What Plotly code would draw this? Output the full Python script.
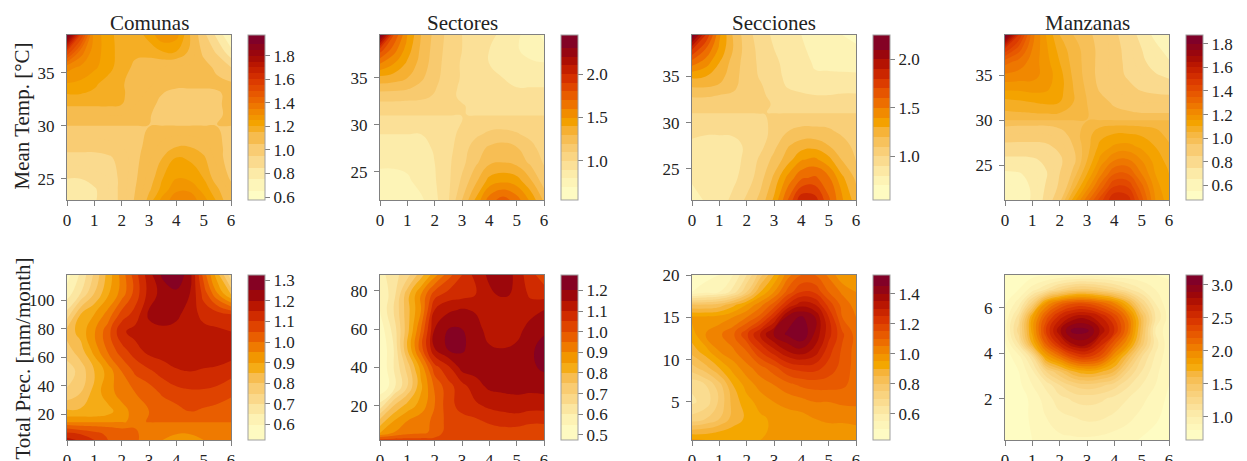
import plotly.graph_objects as go
import numpy as np

W, H = 1247, 461
hours = [0, .5, 1, 1.5, 2, 2.5, 3, 3.5, 4, 4.5, 5, 5.5, 6]
titles = ["Comunas", "Sectores", "Secciones", "Manzanas"]
row_titles = ["Mean Temp. [°C]", "Total Prec. [mm/month]"]

# --- Mean temperature row -------------------------------------------------
y_comunas = [38.55, 37, 35.5, 34, 33, 32, 31, 30.1, 29.9, 28, 27, 25, 24, 23]
z_comunas = [
    [1.95, 1.55, 1.27, 1.23, 1.16, 1.17, 1.22, 1.29, 1.27, 1.15, .98, .82, .65],
    [1.55, 1.38, 1.27, 1.23, 1.17, 1.16, 1.17, 1.2, 1.2, 1.14, 1.03, .93, .78],
    [1.32, 1.29, 1.26, 1.22, 1.17, 1.14, 1.12, 1.1, 1.09, 1.09, 1.08, 1.03, .95],
    [1.25, 1.24, 1.21, 1.18, 1.155, 1.13, 1.11, 1.08, 1.07, 1.07, 1.07, 1.07, 1.06],
    [1.2, 1.2, 1.19, 1.18, 1.16, 1.12, 1.09, 1.05, 1.03, 1.03, 1.03, 1.04, 1.07],
    [1.16, 1.16, 1.16, 1.16, 1.15, 1.1, 1.07, 1.03, 1.01, 1.01, 1.02, 1.04, 1.07],
    [1.1, 1.1, 1.1, 1.1, 1.1, 1.09, 1.06, 1.0, 1.0, 1.0, 1.0, 1.03, 1.08],
    [1.06, 1.06, 1.06, 1.06, 1.06, 1.06, 1.05, 1.04, 1.04, 1.04, 1.04, 1.05, 1.07],
    [1.04, 1.04, 1.04, 1.04, 1.04, 1.04, 1.05, 1.06, 1.06, 1.06, 1.06, 1.05, 1.03],
    [.97, .97, .97, .98, 1.0, 1.03, 1.07, 1.12, 1.15, 1.15, 1.12, 1.07, 1.02],
    [.93, .93, .93, .94, .97, 1.03, 1.09, 1.15, 1.2, 1.19, 1.16, 1.08, 1.01],
    [.85, .85, .88, .9, .97, 1.04, 1.12, 1.2, 1.25, 1.24, 1.2, 1.12, 1.04],
    [.8, .81, .84, .9, .97, 1.05, 1.14, 1.22, 1.29, 1.29, 1.23, 1.16, 1.08],
    [.78, .8, .84, .9, .97, 1.06, 1.17, 1.27, 1.33, 1.33, 1.27, 1.19, 1.1],
]
y_sectores = [39.57, 38, 36.5, 35, 34, 33, 32, 31.1, 30.9, 29, 27.5, 26, 24, 22]
z_sectores = [
    [2.4, 1.8, 1.5, 1.3, 1.17, 1.07, 1.0, .96, .93, .87, .82, .75, .68],
    [1.85, 1.65, 1.45, 1.28, 1.16, 1.06, 1.0, .95, .9, .86, .81, .76, .72],
    [1.6, 1.5, 1.38, 1.26, 1.15, 1.05, .99, .94, .9, .87, .84, .82, .81],
    [1.37, 1.35, 1.3, 1.22, 1.13, 1.05, .99, .94, .92, .9, .89, .88, .88],
    [1.25, 1.24, 1.22, 1.17, 1.11, 1.04, .98, .95, .93, .91, .9, .9, .9],
    [1.14, 1.14, 1.13, 1.12, 1.09, 1.03, .98, .96, .94, .93, .93, .93, .93],
    [1.06, 1.06, 1.06, 1.06, 1.05, 1.03, 1.01, .97, .96, .96, .96, .96, .96],
    [1.01, 1.01, 1.01, 1.01, 1.01, 1.01, 1.005, .99, .98, .98, .98, .98, .98],
    [.99, .99, .99, .99, .99, .99, 1.0, 1.01, 1.02, 1.02, 1.02, 1.02, 1.02],
    [.9, .9, .9, .9, .92, .96, 1.03, 1.08, 1.12, 1.13, 1.11, 1.07, 1.02],
    [.86, .86, .86, .87, .91, .97, 1.05, 1.15, 1.22, 1.25, 1.21, 1.14, 1.05],
    [.82, .82, .83, .85, .9, .98, 1.07, 1.18, 1.28, 1.3, 1.27, 1.18, 1.09],
    [.76, .76, .78, .84, .89, .98, 1.12, 1.28, 1.44, 1.48, 1.45, 1.32, 1.15],
    [.74, .74, .76, .78, .87, .99, 1.2, 1.42, 1.65, 1.75, 1.65, 1.48, 1.28],
]
y_secciones = [39.5, 38, 36.5, 35, 34, 33, 32, 31.1, 30.9, 29, 27.5, 26, 24, 21.6]
z_secciones = [
    [2.2, 1.8, 1.42, 1.19, 1.04, .95, .88, .83, .8, .77, .74, .7, .65],
    [1.82, 1.6, 1.38, 1.2, 1.05, .97, .9, .85, .81, .78, .74, .75, .73],
    [1.55, 1.45, 1.3, 1.16, 1.05, .98, .92, .87, .83, .79, .77, .76, .75],
    [1.32, 1.3, 1.24, 1.14, 1.05, .99, .93, .88, .84, .81, .82, .82, .82],
    [1.22, 1.22, 1.19, 1.12, 1.06, 1.01, .95, .89, .87, .85, .85, .85, .85],
    [1.11, 1.11, 1.1, 1.09, 1.05, 1.02, .97, .93, .91, .9, .9, .91, .91],
    [1.07, 1.07, 1.07, 1.07, 1.05, 1.03, .99, .96, .95, .95, .95, .95, .95],
    [1.01, 1.01, 1.01, 1.01, 1.01, 1.01, .99, .97, .97, .97, .97, .97, .97],
    [.99, .99, .99, .99, .99, .995, 1.01, 1.03, 1.03, 1.03, 1.03, 1.03, 1.03],
    [.93, .91, .91, .91, .92, .96, 1.03, 1.1, 1.13, 1.13, 1.12, 1.08, 1.03],
    [.87, .87, .87, .88, .91, .97, 1.07, 1.19, 1.25, 1.26, 1.2, 1.14, 1.07],
    [.85, .85, .86, .87, .92, 1.02, 1.13, 1.25, 1.39, 1.42, 1.33, 1.19, 1.09],
    [.83, .83, .85, .88, .94, 1.06, 1.22, 1.43, 1.58, 1.62, 1.52, 1.32, 1.18],
    [.72, .82, .86, .92, 1.02, 1.13, 1.32, 1.6, 1.88, 1.85, 1.62, 1.41, 1.25],
]
y_manzanas = [39.5, 38, 36.5, 35, 33.5, 32, 30.1, 29.9, 28.5, 27, 25.5, 24, 22.5, 21.1]
z_manzanas = [
    [1.85, 1.5, 1.27, 1.15, 1.05, 1.0, .97, .92, .87, .8, .72, .62, .56],
    [1.5, 1.38, 1.25, 1.16, 1.08, 1.02, .98, .93, .88, .82, .75, .68, .6],
    [1.32, 1.28, 1.23, 1.17, 1.1, 1.03, .98, .93, .88, .83, .77, .71, .66],
    [1.24, 1.23, 1.22, 1.18, 1.12, 1.04, .98, .93, .88, .84, .8, .76, .73],
    [1.16, 1.16, 1.17, 1.16, 1.12, 1.05, .99, .94, .9, .87, .84, .82, .81],
    [1.08, 1.09, 1.1, 1.11, 1.1, 1.05, 1.0, .97, .94, .92, .9, .9, .9],
    [1.02, 1.02, 1.02, 1.02, 1.02, 1.02, 1.0, .98, .98, .98, .98, .98, .98],
    [.98, .98, .98, .98, .98, .98, 1.0, 1.02, 1.02, 1.02, 1.02, 1.02, 1.02],
    [.91, .9, .9, .9, .93, .97, 1.03, 1.08, 1.1, 1.1, 1.09, 1.07, 1.03],
    [.82, .82, .82, .83, .87, .95, 1.03, 1.12, 1.16, 1.17, 1.14, 1.1, 1.06],
    [.72, .72, .73, .77, .83, .93, 1.05, 1.17, 1.25, 1.26, 1.2, 1.13, 1.08],
    [.63, .64, .68, .74, .85, .97, 1.1, 1.24, 1.35, 1.35, 1.25, 1.15, 1.1],
    [.58, .61, .66, .76, .87, 1.03, 1.18, 1.33, 1.46, 1.45, 1.32, 1.18, 1.1],
    [.55, .6, .66, .78, .93, 1.12, 1.28, 1.43, 1.55, 1.53, 1.37, 1.2, 1.12],
]
# --- Total precipitation row ----------------------------------------------
y_comunas_p = [117.6, 105, 90, 78, 65, 50, 35, 22, 14.6, 13.8, 10, 6, 1.9]
z_comunas_p = [
    [.58, .66, .76, .87, .97, 1.08, 1.18, 1.26, 1.29, 1.22, 1.03, .87, .72],
    [.62, .7, .8, .89, .97, 1.07, 1.17, 1.22, 1.24, 1.2, 1.08, .95, .83],
    [.72, .85, .9, .97, 1.07, 1.12, 1.21, 1.22, 1.21, 1.18, 1.13, 1.12, 1.1],
    [.82, .87, .945, 1.03, 1.14, 1.17, 1.18, 1.19, 1.185, 1.18, 1.17, 1.16, 1.15],
    [.78, .83, .92, 1.01, 1.08, 1.13, 1.17, 1.18, 1.18, 1.18, 1.18, 1.18, 1.18],
    [.72, .77, .85, .92, 1.0, 1.06, 1.09, 1.12, 1.145, 1.15, 1.145, 1.14, 1.12],
    [.76, .8, .87, .93, .97, 1.0, 1.02, 1.06, 1.08, 1.09, 1.09, 1.08, 1.06],
    [.86, .86, .86, .88, .93, .97, 1.0, 1.01, 1.03, 1.05, 1.04, 1.03, 1.02],
    [.94, .94, .94, .94, .945, .96, 1.01, 1.01, 1.01, 1.01, 1.01, 1.01, 1.01],
    [.97, .97, .97, .97, .97, .97, .98, .98, .98, .98, .98, .98, .98],
    [1.05, 1.03, 1.02, 1.01, 1.0, 1.0, .97, .97, .96, .96, .96, .97, .97],
    [1.12, 1.1, 1.07, 1.04, 1.02, 1.01, .97, .96, .95, .95, .96, .97, .97],
    [1.17, 1.14, 1.1, 1.05, 1.03, 1.01, .97, .95, .93, .93, .95, .97, .97],
]
y_sectores_p = [88.2, 78, 70, 60, 50, 40, 30, 20, 12, 6, 2.1]
z_sectores_p = [
    [.58, .63, .68, .78, .88, .98, 1.05, 1.12, 1.16, 1.2, 1.13, 1.07, 1.02],
    [.55, .63, .78, .9, 1.03, 1.07, 1.08, 1.1, 1.14, 1.16, 1.14, 1.09, 1.08],
    [.55, .65, .78, .9, 1.1, 1.14, 1.155, 1.145, 1.1, 1.1, 1.11, 1.13, 1.15],
    [.52, .62, .78, .95, 1.15, 1.2, 1.2, 1.17, 1.13, 1.11, 1.13, 1.17, 1.19],
    [.5, .6, .8, .98, 1.15, 1.21, 1.21, 1.17, 1.155, 1.15, 1.16, 1.19, 1.22],
    [.5, .6, .72, .87, 1.03, 1.09, 1.17, 1.17, 1.17, 1.17, 1.18, 1.19, 1.21],
    [.5, .58, .7, .84, .96, 1.03, 1.08, 1.13, 1.16, 1.165, 1.165, 1.165, 1.17],
    [.62, .75, .82, .87, .95, 1.03, 1.07, 1.09, 1.11, 1.12, 1.13, 1.12, 1.12],
    [.77, .85, .9, .93, .96, 1.02, 1.03, 1.04, 1.06, 1.07, 1.07, 1.06, 1.06],
    [.84, .9, .93, .94, .96, 1.03, 1.02, 1.02, 1.02, 1.03, 1.03, 1.02, 1.02],
    [1.02, 1.02, 1.02, 1.02, 1.02, 1.02, 1.02, 1.02, 1.02, 1.02, 1.02, 1.02, 1.02],
]
y_secciones_p = [20, 18, 16.5, 15, 13, 11, 9, 7, 5, 3, 1.5, .5]
z_secciones_p = [
    [.47, .48, .5, .55, .65, .78, .9, 1.03, 1.1, 1.1, 1.04, .96, .98],
    [.5, .53, .55, .62, .75, .9, 1.0, 1.12, 1.2, 1.19, 1.1, 1.04, 1.0],
    [.8, .8, .82, .88, .95, 1.03, 1.12, 1.25, 1.33, 1.3, 1.18, 1.08, 1.03],
    [.96, .96, .97, 1.0, 1.05, 1.12, 1.25, 1.42, 1.46, 1.4, 1.25, 1.1, 1.05],
    [.93, 1.0, 1.04, 1.09, 1.19, 1.31, 1.41, 1.46, 1.5, 1.39, 1.27, 1.16, 1.08],
    [.87, .93, 1.0, 1.04, 1.1, 1.2, 1.28, 1.35, 1.38, 1.33, 1.22, 1.14, 1.08],
    [.78, .83, .9, .97, 1.03, 1.08, 1.13, 1.2, 1.22, 1.22, 1.18, 1.13, 1.08],
    [.66, .7, .78, .9, .97, 1.02, 1.05, 1.08, 1.11, 1.12, 1.12, 1.11, 1.08],
    [.64, .67, .76, .87, .93, .97, 1.0, 1.02, 1.03, 1.05, 1.05, 1.06, 1.06],
    [.72, .75, .8, .87, .91, .94, .96, .97, .98, 1.0, 1.01, 1.01, 1.02],
    [.87, .88, .9, .92, .93, .93, .97, .98, .98, .98, .98, .98, .98],
    [.96, .95, .95, .95, .95, .95, .96, .96, .96, .96, .96, .96, .96],
]
y_manzanas_p = [7.44, 6.8, 6.2, 5.6, 5, 4.4, 3.8, 3.2, 2.6, 2, 1.2, .18]
z_manzanas_p = [
    [.72, .74, .76, .78, .8, .83, .85, .85, .84, .83, .82, .8, .78],
    [.75, .8, .95, 1.1, 1.28, 1.4, 1.42, 1.35, 1.25, 1.12, 1.0, .9, .85],
    [.78, .95, 1.35, 1.9, 2.15, 2.28, 2.28, 2.17, 2.0, 1.7, 1.3, 1.0, .82],
    [.82, 1.15, 1.8, 2.25, 2.55, 2.72, 2.75, 2.6, 2.38, 2.05, 1.55, 1.1, .85],
    [.85, 1.25, 1.85, 2.4, 2.78, 3.05, 3.03, 2.78, 2.5, 2.1, 1.55, 1.0, .82],
    [.78, 1.1, 1.7, 2.2, 2.55, 2.8, 2.82, 2.55, 2.22, 1.9, 1.45, 1.05, .83],
    [.75, .85, 1.15, 1.8, 2.05, 2.3, 2.38, 2.25, 1.9, 1.55, 1.2, .98, .83],
    [.72, .8, .98, 1.3, 1.5, 1.7, 1.78, 1.72, 1.6, 1.3, 1.1, .93, .82],
    [.7, .77, .9, 1.03, 1.2, 1.32, 1.37, 1.33, 1.25, 1.12, 1.0, .9, .8],
    [.7, .74, .83, .95, 1.06, 1.12, 1.14, 1.12, 1.07, 1.0, .93, .85, .78],
    [.72, .75, .82, .9, .97, 1.0, 1.03, 1.02, .98, .93, .87, .82, .76],
    [.78, .78, .8, .85, .87, .88, .88, .87, .85, .83, .79, .76, .74],
]

# contour levels
levels_comunas = [.6, .65, .75, .85, .95, 1.05, 1.15] + [round(1.2 + .05 * i, 2) for i in range(16)]
levels_sectores = [round(.6 + .1 * i, 1) for i in range(19)]
levels_secciones = [round(.6 + .1 * i, 1) for i in range(17)]
levels_manzanas = [.5, .55, .65, .75, .85, .95] + [round(1.0 + .05 * i, 2) for i in range(18)]
levels_comunas_p = [round(.55 + .05 * i, 2) for i in range(16)]
levels_sectores_p = [round(.5 + .05 * i, 2) for i in range(16)]
levels_secciones_p = [round(.45 + .05 * i, 2) for i in range(22)]
levels_manzanas_p = [round(.7 + .1 * i, 1) for i in range(25)]

panels = [
    (y_comunas, z_comunas, levels_comunas, [23, 38.55], [25, 30, 35], [.6, .8, 1.0, 1.2, 1.4, 1.6, 1.8]),
    (y_sectores, z_sectores, levels_sectores, [22, 39.57], [25, 30, 35], [1.0, 1.5, 2.0]),
    (y_secciones, z_secciones, levels_secciones, [21.6, 39.5], [25, 30, 35], [1.0, 1.5, 2.0]),
    (y_manzanas, z_manzanas, levels_manzanas, [21.1, 39.5], [25, 30, 35], [.6, .8, 1.0, 1.2, 1.4, 1.6, 1.8]),
    (y_comunas_p, z_comunas_p, levels_comunas_p, [1.9, 117.6], [20, 40, 60, 80, 100], [.6, .7, .8, .9, 1.0, 1.1, 1.2, 1.3]),
    (y_sectores_p, z_sectores_p, levels_sectores_p, [2.1, 88.2], [20, 40, 60, 80], [.5, .6, .7, .8, .9, 1.0, 1.1, 1.2]),
    (y_secciones_p, z_secciones_p, levels_secciones_p, [.5, 20], [5, 10, 15, 20], [.6, .8, 1.0, 1.2, 1.4]),
    (y_manzanas_p, z_manzanas_p, levels_manzanas_p, [.18, 7.44], [2, 4, 6], [1.0, 1.5, 2.0, 2.5, 3.0]),
]

RAMP = [(0, "#FFFFC8"), (.125, "#FDEFAF"), (.2, "#FBDF96"), (.3, "#F9CC72"), (.37, "#F7BD50"),
        (.42, "#F6B030"), (.445, "#F5AA00"), (.52, "#F29000"), (.59, "#EE7000"), (.67, "#E55000"),
        (.74, "#D93400"), (.82, "#BF1A00"), (.89, "#A00808"), (1, "#7A0030")]


def ramp(t):
    ts = [r[0] for r in RAMP]
    rgb = [[int(r[1][i:i + 2], 16) for i in (1, 3, 5)] for r in RAMP]
    return "rgb(%d,%d,%d)" % tuple(np.interp(t, ts, [c[j] for c in rgb]) for j in range(3))


def stepped_scale(levels, step):
    """One colour per uniform contour step; steps in one real band share its colour."""
    lo, hi = levels[0], levels[-1]
    n = int(round((hi - lo) / step))
    colors = []
    for k in range(n + 2):  # band k is centred on lo + (k - .5) * step
        v = min(max(lo + (k - .5) * step, lo + 1e-6), hi - 1e-6)
        i = int(np.searchsorted(levels, v)) - 1
        mid = (levels[i] + levels[i + 1]) / 2
        colors.append(ramp((mid - lo) / (hi - lo)))
    return [[k / (n + 1), c] for k, c in enumerate(colors)]


lefts = [67, 380, 692, 1005]
tops = [35, 275]
SIZE_W, SIZE_H = 164, 165
CB_GAP, CB_W = 17, 17
GREY = "#808080"
FONT = "Liberation Serif"
TEXT = "#222222"
ML, MR, MT, MB = 30, 30, 30, 15


def fx(px):
    return (px - ML) / (W - ML - MR)


def fy(px):
    return 1 - (px - MT) / (H - MT - MB)


fig = go.Figure()
annotations = []
for idx, (yv, zv, lev, yr, yt, cbt) in enumerate(panels):
    r, c = idx // 4, idx % 4
    left, top = lefts[c], tops[r]
    ax = "" if idx == 0 else str(idx + 1)
    step = round(float(min(np.diff(lev))), 3)
    yarr = np.array(yv)[::-1]
    zarr = np.array(zv)[::-1]
    fig.add_trace(go.Contour(
        x=hours, y=yarr, z=zarr, xaxis="x" + ax, yaxis="y" + ax,
        autocontour=False,
        contours=dict(start=lev[0], end=lev[-1], size=step, coloring="fill", showlines=False),
        line=dict(width=0, smoothing=1.3),
        colorscale=stepped_scale(lev, step),
        hoverinfo="skip",
        colorbar=dict(
            x=fx(left + SIZE_W + CB_GAP), xanchor="left", xpad=0,
            y=fy(top), yanchor="top", ypad=0,
            len=SIZE_H, lenmode="pixels", thickness=CB_W, thicknessmode="pixels",
            outlinecolor="#a0a0a0", outlinewidth=1, borderwidth=0,
            tickmode="array", tickvals=cbt, ticktext=["%.1f" % v for v in cbt],
            ticks="outside", ticklen=5, tickwidth=1, tickcolor=GREY,
            tickfont=dict(family=FONT, size=17, color=TEXT),
        ),
    ))
    axis_style = dict(showline=True, mirror=True, linecolor=GREY, linewidth=1, ticks="outside",
                      ticklen=5, tickwidth=1, tickcolor=GREY, showgrid=False, zeroline=False,
                      automargin=False, tickfont=dict(family=FONT, size=17, color=TEXT))
    fig.layout["xaxis" + ax] = dict(
        domain=[fx(left), fx(left + SIZE_W)], range=[0, 6], tickmode="array",
        tickvals=[0, 1, 2, 3, 4, 5, 6], anchor="y" + ax, **axis_style)
    fig.layout["yaxis" + ax] = dict(
        domain=[fy(top + SIZE_H), fy(top)], range=yr, tickmode="array",
        tickvals=yt, anchor="x" + ax, ticklabelstandoff=3, **axis_style)
    if r == 0:
        annotations.append(dict(text=titles[c], x=.5, y=1 + 12 / SIZE_H,
                                xref="x%s domain" % ax, yref="y%s domain" % ax,
                                showarrow=False, xanchor="center", yanchor="middle",
                                font=dict(family=FONT, size=21, color=TEXT)))
    if c == 0:
        annotations.append(dict(text=row_titles[r], x=(22 - left) / SIZE_W, y=.5 + (-1 if r else 1) / SIZE_H,
                                xref="x%s domain" % ax, yref="y%s domain" % ax,
                                showarrow=False, textangle=-90, xanchor="center", yanchor="middle",
                                font=dict(family=FONT, size=21, color=TEXT)))

fig.update_layout(width=W, height=H, margin=dict(l=ML, r=MR, t=MT, b=MB), autosize=False,
                  paper_bgcolor="white", plot_bgcolor="white", showlegend=False,
                  annotations=annotations)
fig.write_html("out.html", config={"displayModeBar": False},
               post_script="document.body.style.margin='0';document.body.style.overflow='hidden';")
